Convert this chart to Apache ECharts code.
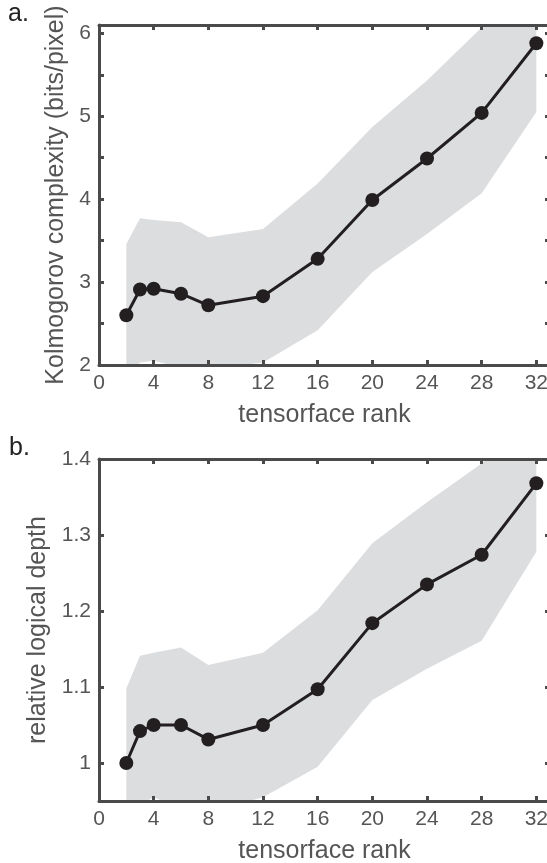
<!DOCTYPE html>
<html>
<head>
<meta charset="utf-8">
<script src="https://cdn.jsdelivr.net/npm/echarts@6/dist/echarts.min.js"></script>
<style>
  html, body { margin: 0; padding: 0; background: #fff; }
  #chart { width: 547px; height: 863px; }
</style>
</head>
<body>
<div id="chart"></div>
<script>
// Tensorface rank on the x axis (shared by both panels)
const ranks = [2, 3, 4, 6, 8, 12, 16, 20, 24, 28, 32];
const xTicks = [0, 4, 8, 12, 16, 20, 24, 28, 32];

// Panel a: Kolmogorov complexity (bits/pixel), mean and spread band
const kolMean  = [2.60, 2.91, 2.92, 2.86, 2.72, 2.83, 3.28, 3.99, 4.49, 5.04, 5.88];
const kolUpper = [3.46, 3.77, 3.75, 3.72, 3.54, 3.64, 4.19, 4.87, 5.43, 6.07, 6.75];
const kolLower = [1.85, 2.03, 2.05, 1.97, 1.95, 2.03, 2.42, 3.12, 3.58, 4.07, 5.05];
const kolTickLabels = [2, 3, 4, 5, 6];
const kolTicks = [2, 2.5, 3, 3.5, 4, 4.5, 5, 5.5, 6];

// Panel b: relative logical depth, mean and spread band
const depthMean  = [1.000, 1.042, 1.050, 1.050, 1.031, 1.050, 1.097, 1.184, 1.235, 1.274, 1.368];
const depthUpper = [1.098, 1.141, 1.145, 1.152, 1.129, 1.145, 1.201, 1.289, 1.343, 1.394, 1.460];
const depthLower = [0.930, 0.945, 0.955, 0.940, 0.935, 0.955, 0.995, 1.083, 1.124, 1.161, 1.278];
const depthTickLabels = [1, 1.1, 1.2, 1.3, 1.4];

const AXIS = '#4a4a4a';
const TEXT = '#555555';
const LINE = '#231f20';
const BAND = '#dcdddf';
const FONT = '"Liberation Sans", Arial, Helvetica, sans-serif';

const pairs = (xs, ys) => xs.map((x, i) => [x, ys[i]]);

function xAxisPair(gridIndex) {
  const common = {
    gridIndex, type: 'value', min: 0, max: 33, z: 10,
    axisLine: { show: true, onZero: false, lineStyle: { color: AXIS, width: 3 } },
    axisTick: { show: true, inside: true, length: 5, customValues: xTicks,
                lineStyle: { color: AXIS, width: 3 } },
    splitLine: { show: false }
  };
  return [
    Object.assign({}, common, {
      position: 'bottom',
      axisLabel: { show: true, customValues: xTicks, fontSize: 21, color: TEXT,
                   fontFamily: FONT, margin: 8 },
      name: 'tensorface rank', nameLocation: 'middle', nameGap: 38,
      nameTextStyle: { fontSize: 25, color: TEXT, fontFamily: FONT }
    }),
    Object.assign({}, common, { position: 'top', axisLabel: { show: false } })
  ];
}

function yAxisPair(gridIndex, min, max, ticks, labels, name, fmt) {
  const common = {
    gridIndex, type: 'value', min, max, z: 10,
    axisLine: { show: true, onZero: false, lineStyle: { color: AXIS, width: 3 } },
    axisTick: { show: true, inside: true, length: 5, customValues: ticks,
                lineStyle: { color: AXIS, width: 3 } },
    splitLine: { show: false }
  };
  return [
    Object.assign({}, common, {
      position: 'left',
      axisLabel: { show: true, customValues: labels, fontSize: 21, color: TEXT,
                   fontFamily: FONT, margin: 8, formatter: fmt },
      name, nameLocation: 'middle', nameGap: 29,
      nameTextStyle: { fontSize: 25, color: TEXT, fontFamily: FONT }
    }),
    Object.assign({}, common, { position: 'right', axisLabel: { show: false } })
  ];
}

// Spread band as a closed polygon: upper edge left→right, lower edge right→left
function bandSeries(axisIdx, upper, lower) {
  return {
    type: 'custom', xAxisIndex: axisIdx, yAxisIndex: axisIdx, clip: true,
    silent: true, z: 1,
    data: ranks.map((x, i) => [x, lower[i], upper[i]]),
    encode: { x: 0, y: [1, 2] },
    renderItem(params, api) {
      if (params.dataIndex !== 0) return null;
      const top = ranks.map((x, i) => api.coord([x, upper[i]]));
      const bottom = ranks.map((x, i) => api.coord([x, lower[i]])).reverse();
      return {
        type: 'polygon',
        shape: { points: top.concat(bottom) },
        style: { fill: BAND, stroke: null }
      };
    }
  };
}

function meanSeries(axisIdx, mean) {
  return {
    type: 'line', xAxisIndex: axisIdx, yAxisIndex: axisIdx, clip: true, silent: true,
    data: pairs(ranks, mean), symbol: 'circle', symbolSize: 14,
    itemStyle: { color: LINE }, lineStyle: { color: LINE, width: 3 }, z: 3
  };
}

const xA = xAxisPair(0), xB = xAxisPair(1);
const yA = yAxisPair(0, 2, 6.1, kolTicks, kolTickLabels,
                     'Kolmogorov complexity (bits/pixel)', v => String(v));
const yB = yAxisPair(1, 0.95, 1.4, depthTickLabels, depthTickLabels,
                     'relative logical depth', v => (v === 1 ? '1' : v.toFixed(1)));

const chart = echarts.init(document.getElementById('chart'), null, { renderer: 'canvas' });
chart.setOption({
  animation: false,
  backgroundColor: '#ffffff',
  textStyle: { fontFamily: FONT },
  // the plot box runs slightly past the right edge of the page, like the original figure
  grid: [
    { left: 99, top: 25, width: 451, height: 340, outerBoundsMode: 'none', containLabel: false },
    { left: 99, top: 459, width: 451, height: 342, outerBoundsMode: 'none', containLabel: false }
  ],
  // xAxis order: [a-bottom, a-top, b-bottom, b-top]
  xAxis: [xA[0], xA[1], xB[0], xB[1]],
  yAxis: [yA[0], yA[1], yB[0], yB[1]],
  series: [
    bandSeries(0, kolUpper, kolLower),
    meanSeries(0, kolMean),
    bandSeries(2, depthUpper, depthLower),
    meanSeries(2, depthMean)
  ],
  graphic: [
    { type: 'text', left: 8, top: 2, style: { text: 'a.', fontSize: 25, fill: '#222', fontFamily: FONT } },
    { type: 'text', left: 9, top: 436, style: { text: 'b.', fontSize: 25, fill: '#222', fontFamily: FONT } }
  ]
});
</script>
</body>
</html>
